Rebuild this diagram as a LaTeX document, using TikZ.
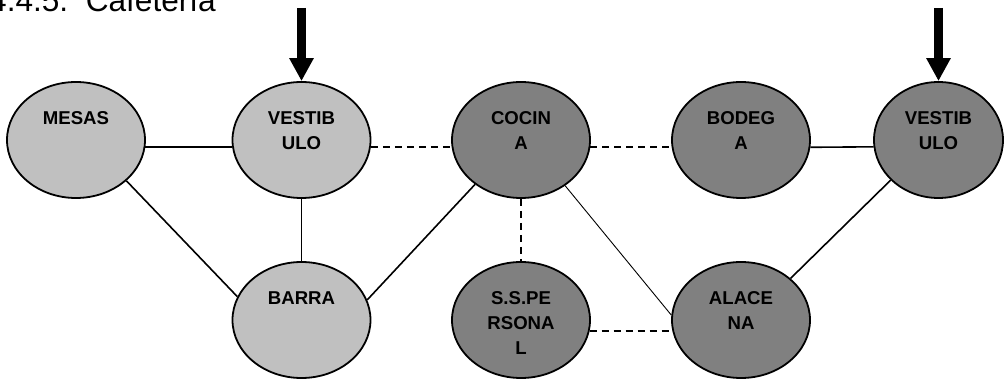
\documentclass[tikz,border=0pt]{standalone}
\usepackage{fontspec}
\setmainfont{Liberation Sans}
\usetikzlibrary{shapes.geometric,arrows.meta}
\definecolor{lgray}{HTML}{C0C0C0}
\definecolor{dgray}{HTML}{808080}
\begin{document}
\begin{tikzpicture}[x=1pt,y=-1pt,
 room/.style={ellipse,draw=black,line width=1.8pt,minimum width=138pt,minimum height=116pt,inner sep=0pt},
 light/.style={room,fill=lgray},
 dark/.style={room,fill=dgray},
 lbl/.style={anchor=north,inner sep=0pt,align=center,font=\fontsize{18.6}{25}\selectfont\bfseries},
 link/.style={line width=1.6pt},
 dlink/.style={line width=1.6pt,dash pattern=on 7pt off 5pt},
 thinlink/.style={line width=0.9pt},
 entry/.style={line width=9pt,-{Triangle[width=23pt,length=23pt]}}
]
\useasboundingbox (0,0) rectangle (1004,379);
\node[anchor=base west,inner sep=0pt,font=\fontsize{31.6}{36}\selectfont] (title) at (-11,12) {4.4.5.\ \ Cafetería};

\node[light] (mesas) at (76,140) {};
\node[light] (vest1) at (301.5,140) {};
\node[dark] (cocina) at (521,140) {};
\node[dark] (bodega) at (741,140) {};
\node[dark,minimum width=129pt] (vest2) at (938.5,140) {};
\node[light] (barra) at (301.5,320) {};
\node[dark] (ssp) at (521,320) {};
\node[dark] (alac) at (741,320) {};

\node[lbl] (mesas-t) at ([yshift=-30pt]mesas.north) {MESAS};
\node[lbl] (vest1-t) at ([yshift=-30pt]vest1.north) {VESTIB\\ULO};
\node[lbl] (cocina-t) at ([yshift=-30pt]cocina.north) {COCIN\\A};
\node[lbl] (bodega-t) at ([yshift=-30pt]bodega.north) {BODEG\\A};
\node[lbl] (vest2-t) at ([yshift=-30pt]vest2.north) {VESTIB\\ULO};
\node[lbl] (barra-t) at ([yshift=-30pt]barra.north) {BARRA};
\node[lbl] (ssp-t) at ([yshift=-30pt]ssp.north) {S.S.PE\\RSONA\\L};
\node[lbl] (alac-t) at ([yshift=-30pt]alac.north) {ALACE\\NA};

\draw[link] (mesas.-6) -- (vest1.186);
\draw[dlink] (vest1.-6) -- (cocina.186);
\draw[dlink] (cocina.-6) -- (bodega.186);
\draw[link] (bodega.-6) -- (vest2.186);
\draw[link] (mesas.-39) -- (barra.160);
\draw[link] (vest1.south) -- (barra.north);
\draw[link] (barra.17) -- (cocina.224);
\draw[dlink] (cocina.south) -- (ssp.north);
\draw[thinlink] (cocina.-46) -- (alac.176);
\draw[dlink] (ssp.-9) -- (alac.189);
\draw[link] (vest2.220) -- (alac.40);

\coordinate (in1) at (301.5,8);
\coordinate (in2) at (938.5,8);
\draw[entry] (in1) -- (vest1.north);
\draw[entry] (in2) -- (vest2.north);
\end{tikzpicture}
\end{document}
